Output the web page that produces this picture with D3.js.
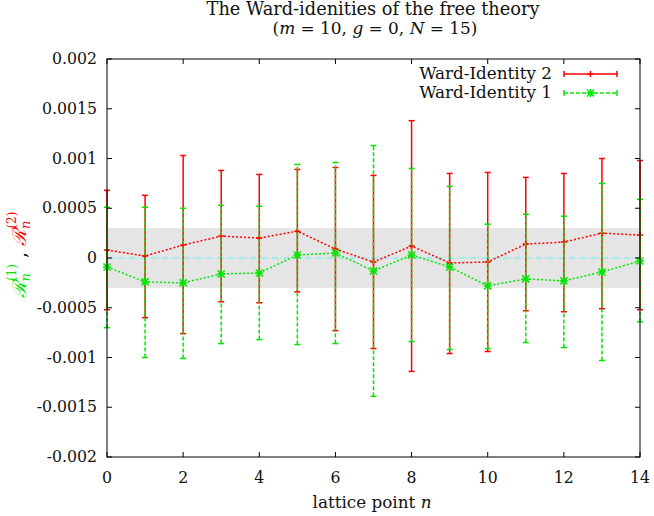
<!DOCTYPE html>
<html><head><meta charset="utf-8">
<script src="https://cdn.jsdelivr.net/npm/d3@7"></script>
<style>body{margin:0;background:#fff}svg{display:block}text{font-family:"DejaVu Serif","Liberation Serif",serif;fill:#111}</style>
</head><body><svg id="c" width="654" height="516"></svg>
<script>
const nVals=[0,1,2,3,4,5,6,7,8,9,10,11,12,13,14];
// Ward-Identity 2 (red)
const wi2=[0.00008,0.00002,0.00013,0.00022,0.00020,0.00027,0.00009,-0.00004,0.00012,-0.00005,-0.00004,0.00014,0.00016,0.00025,0.00023];
const wi2Lo=[-0.00052,-0.00060,-0.00076,-0.00044,-0.00045,-0.00034,-0.00073,-0.00091,-0.00114,-0.00096,-0.00094,-0.00053,-0.00054,-0.00051,-0.00052];
const wi2Hi=[0.00068,0.00063,0.00103,0.00088,0.00084,0.00089,0.00091,0.00083,0.00138,0.00085,0.00086,0.00081,0.00085,0.00100,0.00098];
// Ward-Identity 1 (green)
const wi1=[-0.00009,-0.00024,-0.00025,-0.00016,-0.00015,0.00003,0.00005,-0.00013,0.00003,-0.00009,-0.00028,-0.00021,-0.00023,-0.00014,-0.00003];
const wi1Lo=[-0.00070,-0.00100,-0.00101,-0.00086,-0.00082,-0.00087,-0.00086,-0.00139,-0.00084,-0.00092,-0.00091,-0.00085,-0.00090,-0.00103,-0.00064];
const wi1Hi=[0.00051,0.00051,0.00050,0.00053,0.00052,0.00094,0.00096,0.00113,0.00090,0.00072,0.00034,0.00044,0.00042,0.00075,0.00059];
const band=[-0.0003,0.0003];
const xTicks=[0,2,4,6,8,10,12,14];
const yTicks=[-0.002,-0.0015,-0.001,-0.0005,0,0.0005,0.001,0.0015,0.002];
const yTickLabels=["-0.002","-0.0015","-0.001","-0.0005","0","0.0005","0.001","0.0015","0.002"];

const svg=d3.select("#c");
const L=107,R=640,T=59,B=457;
const x=d3.scaleLinear().domain([0,14]).range([L,R]);
const y=d3.scaleLinear().domain([-0.002,0.002]).range([B,T]);
const RED="#ff0000",GREEN="#00e600";

// fit a text element's font size to a target width
function fit(sel,target){const w=sel.node().getComputedTextLength();const fs=parseFloat(sel.attr("font-size"));sel.attr("font-size",fs*target/w);return fs*target/w;}

svg.append("rect").attr("x",L).attr("y",y(band[1])).attr("width",R-L).attr("height",y(band[0])-y(band[1])).attr("fill","#e5e5e5");
svg.append("line").attr("x1",L).attr("x2",R).attr("y1",y(0)).attr("y2",y(0)).attr("stroke","#66f0f0").attr("stroke-width",1).attr("stroke-dasharray","6,2,1,2");

function series(c,lo,hi,color,barDash,marker){
  const g=svg.append("g");
  const line=d3.line().x((d,i)=>x(nVals[i])).y(d=>y(d));
  g.append("path").attr("d",line(c)).attr("fill","none").attr("stroke",color).attr("stroke-width",1.5).attr("stroke-dasharray","2,2");
  nVals.forEach((n,i)=>{
    const cx=x(n);
    g.append("line").attr("x1",cx).attr("x2",cx).attr("y1",y(lo[i])).attr("y2",y(hi[i])).attr("stroke",color).attr("stroke-width",1.5).attr("stroke-dasharray",barDash);
    [lo[i],hi[i]].forEach(v=>g.append("line").attr("x1",cx-3).attr("x2",cx+3).attr("y1",y(v)).attr("y2",y(v)).attr("stroke",color).attr("stroke-width",1.5));
    marker(g,cx,y(c[i]),color);
  });
}
const plus=(g,cx,cy,col)=>{g.append("path").attr("d",`M${cx-3},${cy}H${cx+3}M${cx},${cy-3}V${cy+3}`).attr("stroke",col).attr("stroke-width",1.5);};
const star=(g,cx,cy,col)=>{g.append("path").attr("d",`M${cx-4},${cy}H${cx+4}M${cx},${cy-4}V${cy+4}M${cx-3.5},${cy-3.5}L${cx+3.5},${cy+3.5}M${cx-3.5},${cy+3.5}L${cx+3.5},${cy-3.5}`).attr("stroke",col).attr("stroke-width",1.5);};
series(wi2,wi2Lo,wi2Hi,RED,null,plus);
series(wi1,wi1Lo,wi1Hi,GREEN,"4,2",star);

svg.append("rect").attr("x",L).attr("y",T).attr("width",R-L).attr("height",B-T).attr("fill","none").attr("stroke","#000").attr("stroke-width",1);

// tick label font size from the width of "0.0015"
const probe=svg.append("text").attr("font-size",15).text("0.0015");
const tickFs=fit(probe,55);probe.remove();
const tl=5;
xTicks.forEach(t=>{
  svg.append("line").attr("x1",x(t)).attr("x2",x(t)).attr("y1",B).attr("y2",B-tl).attr("stroke","#000");
  svg.append("line").attr("x1",x(t)).attr("x2",x(t)).attr("y1",T).attr("y2",T+tl).attr("stroke","#000");
  svg.append("text").attr("x",x(t)).attr("y",483).attr("text-anchor","middle").attr("font-size",tickFs).text(t);
});
yTicks.forEach((t,i)=>{
  svg.append("line").attr("x1",L).attr("x2",L+tl).attr("y1",y(t)).attr("y2",y(t)).attr("stroke","#000");
  svg.append("line").attr("x1",R).attr("x2",R-tl).attr("y1",y(t)).attr("y2",y(t)).attr("stroke","#000");
  svg.append("text").attr("x",97).attr("y",y(t)+5).attr("text-anchor","end").attr("font-size",tickFs).text(yTickLabels[i]);
});

// titles
const t1=svg.append("text").attr("x",373).attr("y",15).attr("text-anchor","middle").attr("font-size",15).text("The Ward-idenities of the free theory");
fit(t1,333);
const t2=svg.append("text").attr("x",375).attr("y",34).attr("text-anchor","middle").attr("font-size",15);
t2.append("tspan").text("(");t2.append("tspan").attr("font-style","italic").text("m");
t2.append("tspan").text(" = 10, ");t2.append("tspan").attr("font-style","italic").text("g");
t2.append("tspan").text(" = 0, ");t2.append("tspan").attr("font-style","italic").text("N");
t2.append("tspan").text(" = 15)");
fit(t2,205);
const xl=svg.append("text").attr("x",372).attr("y",508).attr("text-anchor","middle").attr("font-size",15);
xl.append("tspan").text("lattice point ");xl.append("tspan").attr("font-style","italic").text("n");
fit(xl,119);

// y label
const yl=svg.append("text").attr("transform","translate(26,255) rotate(-90)").attr("text-anchor","middle").attr("font-size",19);
yl.append("tspan").attr("fill",GREEN).attr("font-style","italic").text("ℛ");
yl.append("tspan").attr("fill",GREEN).attr("font-style","italic").attr("font-size",13).attr("dy",4).text("n");
yl.append("tspan").attr("fill",GREEN).attr("font-size",12).attr("dx",-8).attr("dy",-14).text("(1)");
yl.append("tspan").attr("fill","#111").attr("dy",10).text(" , ");
yl.append("tspan").attr("fill",RED).attr("font-style","italic").text("ℛ");
yl.append("tspan").attr("fill",RED).attr("font-style","italic").attr("font-size",13).attr("dy",4).text("n");
yl.append("tspan").attr("fill",RED).attr("font-size",12).attr("dx",-8).attr("dy",-14).text("(2)");

// legend
const leg=[{label:"Ward-Identity 2",color:RED,dash:null,m:plus,y:74},{label:"Ward-Identity 1",color:GREEN,dash:"4,2",m:star,y:93}];
leg.forEach(d=>{
  const tx=svg.append("text").attr("x",552).attr("y",d.y+5).attr("text-anchor","end").attr("font-size",15).text(d.label);
  fit(tx,133);
  svg.append("line").attr("x1",564).attr("x2",617).attr("y1",d.y).attr("y2",d.y).attr("stroke",d.color).attr("stroke-width",1.5).attr("stroke-dasharray",d.dash);
  [564,617].forEach(xx=>svg.append("line").attr("x1",xx).attr("x2",xx).attr("y1",d.y-3).attr("y2",d.y+3).attr("stroke",d.color).attr("stroke-width",1.5));
  d.m(svg,590.5,d.y,d.color);
});
</script></body></html>
